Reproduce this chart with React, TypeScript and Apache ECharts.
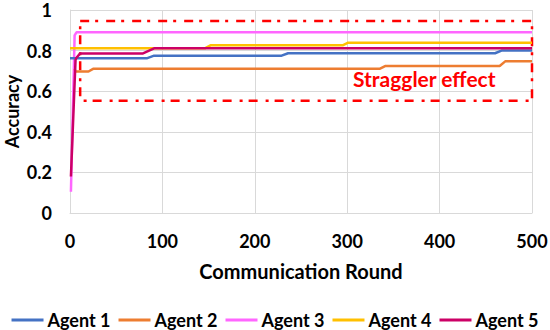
import React, { useEffect, useRef } from "react";
import * as echarts from "echarts";

const agentNames = ["Agent 1", "Agent 2", "Agent 3", "Agent 4", "Agent 5"];
const agentColors = ["#4472C4", "#ED7D31", "#FF66FF", "#FFC000", "#CC0066"];

// [communication round, accuracy]
const agent1: number[][] = [[0, 0.762], [83, 0.762], [91, 0.775], [229, 0.775], [236, 0.787], [460, 0.787], [467, 0.8], [500, 0.8]];
const agent2: number[][] = [[5, 0.71], [6, 0.697], [20, 0.697], [25, 0.71], [335, 0.71], [341, 0.724], [465, 0.724], [471, 0.747], [500, 0.747]];
const agent3: number[][] = [[1, 0.105], [5, 0.875], [7, 0.89], [500, 0.89]];
const agent4: number[][] = [[0, 0.811], [146, 0.811], [152, 0.826], [295, 0.826], [301, 0.839], [500, 0.839]];
const agent5: number[][] = [[1, 0.18], [6, 0.755], [7, 0.765], [11, 0.786], [79, 0.786], [91, 0.811], [500, 0.811]];
const agentData = [agent1, agent2, agent3, agent4, agent5];

const xTicks = [0, 100, 200, 300, 400, 500];
const yTicks = [0, 0.2, 0.4, 0.6, 0.8, 1];

const stragglerBox = { x0: 11, y0: 0.946, x1: 500, y1: 0.553 };
const stragglerLabel = "Straggler effect";

const FONT = "Lato";

export default function App() {
  const ref = useRef<HTMLDivElement>(null);
  useEffect(() => {
    if (!ref.current) return;
    const chart = echarts.init(ref.current, undefined, { renderer: "svg" });
    const series: any[] = agentData.map((d, i) => ({
      name: agentNames[i],
      type: "line",
      data: d,
      symbol: "none",
      showSymbol: false,
      lineStyle: { width: 2.5, color: agentColors[i] },
      itemStyle: { color: agentColors[i] },
      z: 2 + (i === 2 ? 0 : 1),
    }));
    series.push({
      type: "line",
      data: [],
      z: 10,
      markArea: {
        silent: true,
        itemStyle: {
          color: "transparent",
          borderColor: "#FF0000",
          borderWidth: 2.5,
          borderType: [9, 6, 3, 8],
        },
        data: [[{ coord: [stragglerBox.x0, stragglerBox.y0] }, { coord: [stragglerBox.x1, stragglerBox.y1] }]],
      },
    });
    chart.setOption({
      animation: false,
      grid: { left: 70, right: 18, top: 10, bottom: 117, containLabel: false, outerBoundsMode: "none" },
      xAxis: {
        type: "value",
        min: xTicks[0],
        max: xTicks[xTicks.length - 1],
        interval: 100,
        name: "Communication Round",
        nameLocation: "middle",
        nameGap: 48,
        nameTextStyle: { fontFamily: FONT, fontWeight: "bold", fontSize: 20, color: "#000" },
        axisLine: { show: true, lineStyle: { color: "#D9D9D9", width: 1 } },
        axisTick: { show: false },
        axisLabel: { fontFamily: FONT, fontWeight: "bold", fontSize: 18, color: "#000", margin: 19 },
        splitLine: { show: true, lineStyle: { color: "#D9D9D9", width: 1 } },
      },
      yAxis: {
        type: "value",
        min: yTicks[0],
        max: yTicks[yTicks.length - 1],
        interval: 0.2,
        name: "Accuracy",
        nameLocation: "middle",
        nameRotate: 90,
        nameGap: 49,
        nameMoveOverlap: false,
        nameTextStyle: { fontFamily: FONT, fontWeight: "bold", fontSize: 18, color: "#000" },
        axisLine: { show: true, lineStyle: { color: "#D9D9D9", width: 1 } },
        axisTick: { show: false },
        axisLabel: { fontFamily: FONT, fontWeight: "bold", fontSize: 18, color: "#000", margin: 18 },
        splitLine: { show: true, lineStyle: { color: "#D9D9D9", width: 1 } },
      },
      legend: {
        data: agentNames.map((n) => ({ name: n, icon: "rect" })),
        top: 306,
        left: "center",
        itemWidth: 32,
        itemHeight: 3,
        itemGap: 8,
        textStyle: { fontFamily: FONT, fontWeight: "bold", fontSize: 18, color: "#000", padding: [0, 0, 0, -1] },
      },
      graphic: [
        {
          type: "text",
          left: 353,
          top: 68,
          z: 20,
          style: { text: stragglerLabel, fontFamily: FONT, fontWeight: "bold", fontSize: 21, fill: "#FF0000" },
        },
      ],
      series,
    });
    return () => chart.dispose();
  }, []);
  return <div ref={ref} style={{ width: 550, height: 330, position: "absolute", left: 0, top: 0 }} />;
}
